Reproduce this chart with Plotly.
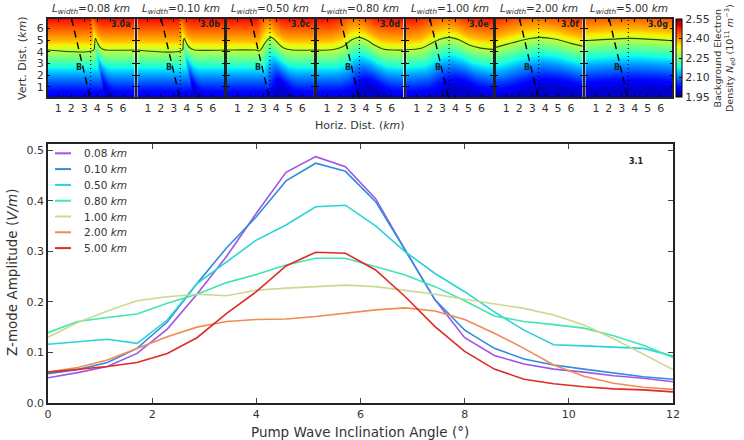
import numpy as np
import plotly.graph_objects as go

W, H = 744, 440
FONT = "DejaVu Sans"

# ---------------- main chart data ----------------
angle = [0, 0.57, 1.14, 1.71, 2.29, 2.86, 3.43, 4.0, 4.57, 5.14, 5.71,
         6.29, 6.86, 7.43, 8.0, 8.57, 9.14, 9.71, 10.29, 10.86, 11.43, 12]
widths = ["0.08", "0.10", "0.50", "0.80", "1.00", "2.00", "5.00"]
amp_008 = [0.050, 0.060, 0.072, 0.098, 0.146, 0.215, 0.290, 0.375, 0.456, 0.487, 0.467,
           0.404, 0.302, 0.204, 0.129, 0.094, 0.077, 0.067, 0.061, 0.054, 0.049, 0.042]
amp_010 = [0.058, 0.066, 0.080, 0.108, 0.160, 0.236, 0.307, 0.368, 0.439, 0.474, 0.458,
           0.398, 0.302, 0.204, 0.144, 0.108, 0.087, 0.075, 0.067, 0.059, 0.052, 0.047]
amp_050 = [0.116, 0.121, 0.126, 0.118, 0.164, 0.236, 0.279, 0.322, 0.352, 0.388, 0.391,
           0.350, 0.299, 0.256, 0.220, 0.180, 0.144, 0.115, 0.113, 0.111, 0.108, 0.093]
amp_080 = [0.139, 0.161, 0.169, 0.176, 0.197, 0.215, 0.238, 0.254, 0.273, 0.286, 0.286,
           0.269, 0.253, 0.230, 0.202, 0.172, 0.161, 0.155, 0.148, 0.133, 0.114, 0.090]
amp_100 = [0.130, 0.159, 0.182, 0.202, 0.210, 0.215, 0.212, 0.223, 0.227, 0.230, 0.233,
           0.230, 0.223, 0.215, 0.205, 0.196, 0.187, 0.174, 0.154, 0.127, 0.097, 0.066]
amp_200 = [0.061, 0.070, 0.085, 0.108, 0.131, 0.150, 0.161, 0.165, 0.166, 0.171, 0.177,
           0.184, 0.188, 0.182, 0.165, 0.138, 0.108, 0.075, 0.053, 0.039, 0.031, 0.027]
amp_500 = [0.061, 0.067, 0.072, 0.080, 0.098, 0.129, 0.177, 0.220, 0.271, 0.298, 0.296,
           0.263, 0.210, 0.151, 0.102, 0.067, 0.047, 0.038, 0.032, 0.028, 0.026, 0.022]
amps = [amp_008, amp_010, amp_050, amp_080, amp_100, amp_200, amp_500]
line_colors = ["#a154ea", "#2f8edc", "#2ad3d6", "#3fe6b2", "#cbd891", "#f38a52", "#df2a26"]

# ---------------- top panel data ----------------
panel_tags = ["3.0a", "3.0b", "3.0c", "3.0d", "3.0e", "3.0f", "3.0g"]
# background density vertical profile (km, 1e11 m^-3)
prof_h = [0, 1, 2, 3, 4, 5, 6, 7]
prof_d = [1.99, 2.05, 2.12, 2.20, 2.29, 2.38, 2.44, 2.50]
contour_base = 4.14
# contour height read per panel
cont_x = [
    [0.18, 3.72, 3.80, 3.87, 4.0, 4.2, 4.45, 4.7, 6.9],
    [0.18, 3.65, 3.72, 3.80, 3.92, 4.1, 4.35, 4.6, 6.9],
    [0.18, 2.4, 2.7, 3.1, 3.35, 3.6, 3.85, 4.1, 4.6, 5.2, 6.9],
    [0.18, 1.4, 2.2, 2.9, 3.45, 4.05, 4.65, 5.3, 6.1, 6.9],
    [0.18, 1.35, 2.1, 2.75, 3.5, 4.3, 5.05, 5.85, 6.9],
    [0.18, 1.5, 2.55, 3.55, 4.85, 6.0, 6.9],
    [0.18, 2.3, 3.6, 4.9, 6.9],
]
cont_h = [
    [4.14, 4.14, 4.6, 5.15, 4.82, 4.42, 4.2, 4.14, 4.14],
    [4.14, 4.14, 4.7, 5.15, 4.88, 4.5, 4.25, 4.15, 4.14],
    [4.14, 4.14, 4.08, 4.7, 5.05, 5.23, 5.05, 4.75, 4.3, 4.15, 4.14],
    [4.14, 4.16, 4.42, 5.02, 5.23, 5.0, 4.57, 4.23, 4.14, 4.14],
    [4.17, 4.3, 4.7, 5.05, 5.23, 5.0, 4.57, 4.33, 4.2],
    [4.37, 4.77, 5.06, 5.23, 5.06, 4.71, 4.48],
    [4.94, 5.08, 5.14, 5.08, 4.94],
]
tilt_below, tilt_above = 0.21, 0.12
b_line_x = [2.03, 3.44]
b_line_y = [6.8, 0.12]
dot_x = [3.5, 3.5]
dot_y = [0.12, 6.8]
cbar_ticks = [1.95, 2.10, 2.25, 2.40, 2.55]

jet = [[0.0, "rgb(0,0,128)"], [0.11, "rgb(0,0,255)"], [0.125, "rgb(0,0,255)"],
       [0.34, "rgb(0,219,255)"], [0.375, "rgb(21,255,226)"], [0.5, "rgb(124,255,121)"],
       [0.64, "rgb(230,255,16)"], [0.66, "rgb(255,234,0)"], [0.89, "rgb(255,18,0)"],
       [0.91, "rgb(237,0,0)"], [1.0, "rgb(128,0,0)"]]

fig = go.Figure()


def paper_text(xp, yp, text, size, angle=0, xanchor="center", bold=False):
    fig.add_annotation(x=xp / W, y=1 - yp / H, xref="paper", yref="paper", text=text,
                       textangle=angle, xanchor=xanchor, yanchor="middle", showarrow=False,
                       font=dict(size=size, color="#333", family=FONT))


# ---------- top panels ----------
gx = np.linspace(0.18, 6.9, 130)
gy = np.linspace(0.12, 6.8, 130)
GX, GY = np.meshgrid(gx, gy)
panel_left = [47.7, 137.3, 226.9, 316.5, 406.1, 495.7, 585.3]
panel_w = 87.0
ptop, pbot = 19.0, 97.0
for i in range(7):
    n = i + 2
    tilt = np.where(GY < contour_base, tilt_below, tilt_above)
    XS = GX - (contour_base - GY) * tilt
    Hc = np.interp(XS, cont_x[i], cont_h[i])
    Z = np.interp(GY - (Hc - contour_base), prof_h, prof_d)
    xa, ya = f"x{n}", f"y{n}"
    fig.add_trace(go.Heatmap(x=gx, y=gy, z=Z, coloraxis="coloraxis", zsmooth="best",
                             xaxis=xa, yaxis=ya, showlegend=False, hoverinfo="skip"))
    fig.add_trace(go.Scatter(x=cont_x[i], y=cont_h[i], mode="lines", line_shape="spline",
                             line=dict(color="rgba(35,35,0,0.85)", width=1.1),
                             xaxis=xa, yaxis=ya, showlegend=False, hoverinfo="skip"))
    fig.add_trace(go.Scatter(x=b_line_x, y=b_line_y, mode="lines",
                             line=dict(color="black", width=1.4, dash="7px,5px"),
                             xaxis=xa, yaxis=ya, showlegend=False, hoverinfo="skip"))
    fig.add_trace(go.Scatter(x=dot_x, y=dot_y, mode="lines",
                             line=dict(color="black", width=1.1, dash="1px,3px"),
                             xaxis=xa, yaxis=ya, showlegend=False, hoverinfo="skip"))
    L = panel_left[i]
    fig.layout[f"xaxis{n}"] = dict(domain=[L / W, (L + panel_w) / W], range=[0.18, 6.9],
                                   anchor=ya, tickvals=[1, 2, 3, 4, 5, 6], ticks="inside",
                                   ticklen=3, tickcolor="black", showline=True, linecolor="#222",
                                   linewidth=1.5, mirror="ticks", showgrid=False, zeroline=False,
                                   tickfont=dict(size=11, color="#333", family=FONT))
    fig.layout[f"yaxis{n}"] = dict(domain=[1 - pbot / H, 1 - ptop / H], range=[0.12, 6.8],
                                   anchor=xa, tickvals=[1, 2, 3, 4, 5, 6], ticks="inside",
                                   ticklen=3, tickcolor="black", showline=True, linecolor="#222",
                                   linewidth=1.5, mirror="ticks", showgrid=False, zeroline=False,
                                   showticklabels=(i == 0),
                                   tickfont=dict(size=11, color="#333", family=FONT))
    fig.add_annotation(x=2.62, y=2.62, xref=xa, yref=ya, text="<b>B</b>", showarrow=False,
                       xanchor="center", yanchor="middle",
                       font=dict(size=8, color="#1a2a2a", family=FONT))
    fig.add_annotation(x=6.75, y=6.3, xref=xa, yref=ya, text=f"<b>{panel_tags[i]}</b>",
                       showarrow=False, xanchor="right", yanchor="middle",
                       font=dict(size=8, color="#222", family=FONT))
    paper_text(L + panel_w / 2, 9,
               f"<i>L</i><sub><i>width</i></sub>={widths[i]} <i>km</i>", 10.5)

fig.update_layout(coloraxis=dict(
    colorscale=jet, cmin=1.95, cmax=2.55,
    colorbar=dict(x=676 / W, xanchor="left", xpad=0, ypad=0, thickness=6,
                  len=(pbot - ptop) / H, lenmode="fraction", y=1 - (ptop + pbot) / 2 / H,
                  yanchor="middle", outlinewidth=1, outlinecolor="black",
                  tickvals=cbar_ticks, ticktext=[f"{v:.2f}" for v in cbar_ticks],
                  ticks="inside", ticklen=3, tickcolor="black",
                  tickfont=dict(size=11, color="#333", family=FONT))))

paper_text(22, 58, "Vert. Dist. (<i>km</i>)", 11, angle=-90)
paper_text(360, 125, "Horiz. Dist. (<i>km</i>)", 11)
paper_text(724, 58,
           "Background Electron<br>Density <i>N</i><sub><i>e0</i></sub> (10<sup>11</sup> <i>m</i><sup>−3</sup>)",
           9.5, angle=-90)

# ---------- main chart ----------
for w, a, c in zip(widths, amps, line_colors):
    fig.add_trace(go.Scatter(x=angle, y=a, mode="lines", name=f"{w} <i>km</i>",
                             line=dict(color=c, width=1.6), xaxis="x", yaxis="y",
                             showlegend=False))

# legend drawn as key lines + text (matplotlib-style compact legend)
leg_top, leg_step = 153.3, 15.8
for k, (w, c) in enumerate(zip(widths, line_colors)):
    yy = leg_top + k * leg_step
    fig.add_shape(type="line", xref="paper", yref="paper", x0=55 / W, x1=71 / W,
                  y0=1 - yy / H, y1=1 - yy / H, line=dict(color=c, width=2))
    paper_text(82, yy, f"{w} <i>km</i>", 10.5, xanchor="left")

fig.update_layout(
    xaxis=dict(domain=[48 / W, 673 / W], range=[0, 12], anchor="y",
               tickvals=[0, 2, 4, 6, 8, 10, 12], ticks="inside", ticklen=5, tickcolor="#444",
               showline=True, linecolor="#222", linewidth=1.5, mirror="ticks",
               showgrid=False, zeroline=False,
               tickfont=dict(size=11, color="#333", family=FONT)),
    yaxis=dict(domain=[1 - 403 / H, 1 - 144 / H], range=[0, 0.512], anchor="x",
               tickvals=[0, 0.1, 0.2, 0.3, 0.4, 0.5], ticktext=["0.0", "0.1", "0.2", "0.3", "0.4", "0.5"],
               ticks="inside", ticklen=5, tickcolor="#444",
               showline=True, linecolor="#222", linewidth=1.5, mirror="ticks",
               showgrid=False, zeroline=False,
               tickfont=dict(size=11, color="#333", family=FONT)),
)
fig.add_annotation(x=636 / W, y=1 - 161 / H, xref="paper", yref="paper", text="<b>3.1</b>",
                   xanchor="center", yanchor="middle", showarrow=False,
                   font=dict(size=8, color="#222", family=FONT))
paper_text(360, 432, "Pump Wave Inclination Angle (°)", 13.5)
paper_text(12, 273, "Z-mode Amplitude (<i>V/m</i>)", 13.5, angle=-90)

fig.update_layout(width=W, height=H, autosize=False,
                  margin=dict(l=0, r=0, t=0, b=0, autoexpand=False),
                  paper_bgcolor="white", plot_bgcolor="white", showlegend=False,
                  font=dict(family=FONT))
fig.write_html("out.html")
